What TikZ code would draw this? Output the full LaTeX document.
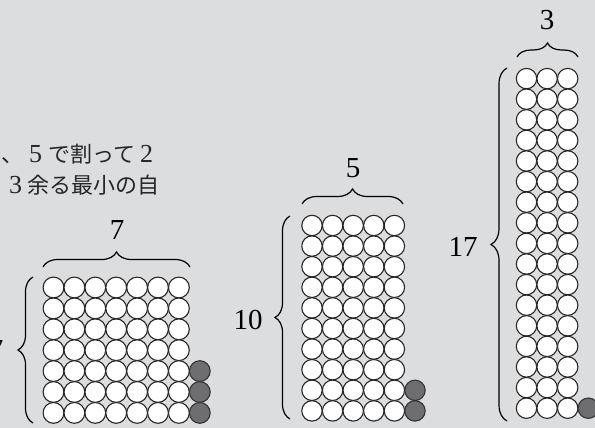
\documentclass[tikz,border=0pt]{standalone}
\usepackage{fontspec}
\setmainfont{Liberation Serif}
\newfontfamily\jpfont{Noto Sans CJK JP}
\usetikzlibrary{decorations.pathreplacing}
\definecolor{bg}{RGB}{220,221,223}
\definecolor{dot}{RGB}{110,110,112}
\tikzset{
  wdot/.style={draw=black!85, fill=white, line width=1.1pt},
  gdot/.style={draw=black!80, fill=dot, line width=1.1pt},
  bracepath/.style={decorate, decoration={brace, amplitude=#1}, line width=1.2pt},
  numlabel/.style={font=\fontsize{29}{32}\selectfont, inner sep=0pt},
  jptext/.style={font=\jpfont\fontsize{22}{24}\selectfont, inner sep=0pt, anchor=base west, text=black!85}
}
\newcommand{\dg}[1]{{\rmfamily\fontsize{26}{26}\selectfont #1}}
\begin{document}
\begin{tikzpicture}[x=1pt, y=-1pt]
\useasboundingbox (0,0) rectangle (595,428);
\clip (0,0) rectangle (595,428);
\fill[bg] (0,0) rectangle (595,428);

% text lines
\node[jptext] (line1) at (1,162) {、\hspace{6pt}\dg{5}\hspace{6pt}で割って\hspace{5pt}\dg{2}};
\node[jptext] (line2) at (4,193) {\hspace{5pt}\dg{3}\hspace{5pt}余る最小の自};

% left group: 7 x 7 plus 3
\def\s{20.9}
\foreach \c in {0,...,6}
  \foreach \r in {0,...,6}
    \draw[wdot] (53.5+\c*\s, 287.5+\r*\s) circle (10.4);
\foreach \r in {4,5,6}
  \draw[gdot] (53.5+7*\s, 287.5+\r*\s) circle (10.4);
\coordinate (La) at (43,267);
\coordinate (Lb) at (190,267);
\draw[bracepath=15pt] (La) -- (Lb);
\node[numlabel] (L7top) at (117,230) {7};
\coordinate (Lc) at (33,423);
\coordinate (Ld) at (33,277);
\draw[bracepath=15pt] (Lc) -- (Ld);
\node[numlabel] (L7side) at (-4,350) {7};

% middle group: 5 x 10 plus 2
\def\m{20.6}
\foreach \c in {0,...,4}
  \foreach \r in {0,...,9}
    \draw[wdot] (312+\c*\m, 225.5+\r*\m) circle (10.2);
\foreach \r in {8,9}
  \draw[gdot] (312+5*\m, 225.5+\r*\m) circle (10.2);
\coordinate (Ma) at (302,204);
\coordinate (Mb) at (403,204);
\draw[bracepath=15pt] (Ma) -- (Mb);
\node[numlabel] (M5) at (353,168) {5};
\coordinate (Mc) at (290,419);
\coordinate (Md) at (290,216);
\draw[bracepath=15pt] (Mc) -- (Md);
\node[numlabel] (M10) at (248,320) {10};

% right group: 3 x 17 plus 1
\def\n{20.6}
\foreach \c in {0,...,2}
  \foreach \r in {0,...,16}
    \draw[wdot] (526.5+\c*\n, 78.6+\r*\n) circle (10.2);
\draw[gdot] (526.5+3*\n, 78.6+16*\n) circle (10.2);
\coordinate (Ra) at (517,57);
\coordinate (Rb) at (578,57);
\draw[bracepath=14pt] (Ra) -- (Rb);
\node[numlabel] (R3) at (547,20) {3};
\coordinate (Rc) at (507,421);
\coordinate (Rd) at (507,68);
\draw[bracepath=16pt] (Rc) -- (Rd);
\node[numlabel] (R17) at (463,247) {17};
\end{tikzpicture}
\end{document}
